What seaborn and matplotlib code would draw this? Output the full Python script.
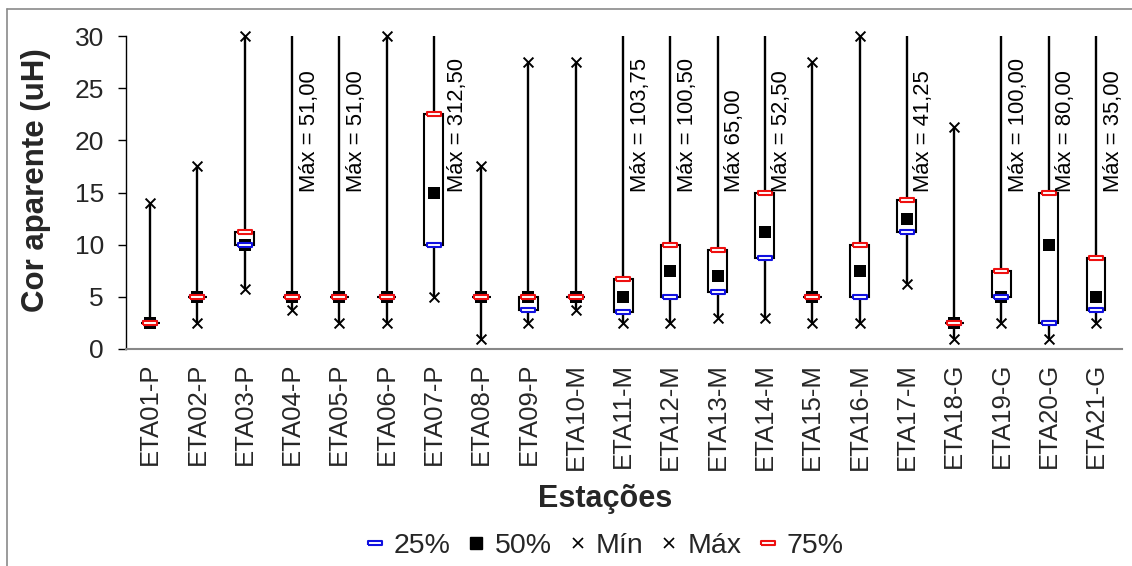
import numpy as np
import pandas as pd
import matplotlib
matplotlib.use("Agg")
import matplotlib.pyplot as plt
from matplotlib.lines import Line2D
import seaborn as sns

stations = ["ETA01-P", "ETA02-P", "ETA03-P", "ETA04-P", "ETA05-P", "ETA06-P", "ETA07-P",
            "ETA08-P", "ETA09-P", "ETA10-M", "ETA11-M", "ETA12-M", "ETA13-M", "ETA14-M",
            "ETA15-M", "ETA16-M", "ETA17-M", "ETA18-G", "ETA19-G", "ETA20-G", "ETA21-G"]
v_min = [2.5, 2.5, 5.75, 3.75, 2.5, 2.5, 5.0, 1.0, 2.5, 3.75, 2.5, 2.5, 3.0, 3.0,
         2.5, 2.5, 6.25, 1.0, 2.5, 1.0, 2.5]
q25 = [2.5, 5.0, 10.0, 5.0, 5.0, 5.0, 10.0, 5.0, 3.75, 5.0, 3.5, 5.0, 5.5, 8.75,
       5.0, 5.0, 11.25, 2.5, 5.0, 2.5, 3.75]
q50 = [2.5, 5.0, 10.0, 5.0, 5.0, 5.0, 15.0, 5.0, 5.0, 5.0, 5.0, 7.5, 7.0, 11.25,
       5.0, 7.5, 12.5, 2.5, 5.0, 10.0, 5.0]
q75 = [2.5, 5.0, 11.25, 5.0, 5.0, 5.0, 22.5, 5.0, 5.0, 5.0, 6.75, 10.0, 9.5, 15.0,
       5.0, 10.0, 14.25, 2.5, 7.5, 15.0, 8.75]
v_max = [14.0, 17.5, 30.0, 51.0, 51.0, 30.0, 312.5, 17.5, 27.5, 27.5, 103.75, 100.5, 65.0, 52.5,
         27.5, 30.0, 41.25, 21.25, 100.0, 80.0, 35.0]
max_labels = ["", "", "", "Máx = 51,00", "Máx = 51,00", "", "Máx = 312,50", "", "", "",
              "Máx = 103,75", "Máx = 100,50", "Máx 65,00", "Máx = 52,50", "", "", "Máx = 41,25",
              "", "Máx = 100,00", "Máx = 80,00", "Máx = 35,00"]
y_ticks = [0, 5, 10, 15, 20, 25, 30]

sns.set_theme(style="white")
plt.rcParams["font.family"] = ["Liberation Sans", "DejaVu Sans"]

df = pd.DataFrame({"station": stations, "min": v_min, "q25": q25, "q50": q50,
                   "q75": q75, "max": v_max, "label": max_labels})
df["pos"] = np.arange(len(df))

fig = plt.figure(figsize=(11.32, 5.66), dpi=100)
ax = fig.add_axes([126 / 1132, 1 - 349 / 566, 996 / 1132, 313 / 566])

# whiskers
ax.vlines(df["pos"], df["min"], df["max"], color="black", lw=1.7, zorder=1)
# boxes
ax.bar(df["pos"], df["q75"] - df["q25"], bottom=df["q25"], width=0.4,
       color="white", edgecolor="black", linewidth=1.5, zorder=2)

qmark = [(-1, -0.3), (1, -0.3), (1, 0.3), (-1, 0.3), (-1, -0.3)]
sns.scatterplot(data=df, x="pos", y="min", marker="x", s=50, color="black",
                linewidth=1.4, ax=ax, zorder=2.5, legend=False, clip_on=False)
dmax = df[df["max"] <= 30]
sns.scatterplot(data=dmax, x="pos", y="max", marker="x", s=50, color="black",
                linewidth=1.4, ax=ax, zorder=2.5, legend=False, clip_on=False)
sns.scatterplot(data=df, x="pos", y="q50", marker="s", s=82, color="black",
                edgecolor="black", linewidth=0, ax=ax, zorder=3, legend=False)
sns.scatterplot(data=df, x="pos", y="q25", marker=qmark, s=88, color="white",
                edgecolor="#1010e0", linewidth=1.5, ax=ax, zorder=4, legend=False)
sns.scatterplot(data=df, x="pos", y="q75", marker=qmark, s=88, color="white",
                edgecolor="#ee1010", linewidth=1.5, ax=ax, zorder=4, legend=False)

for _, r in df[df["label"] != ""].iterrows():
    off = 0.5 if r["pos"] == 6 else 0.36
    ax.text(r["pos"] + off, 15, r["label"], rotation=90, ha="center", va="bottom",
            fontsize=15.8, color="black", zorder=6)

ax.set_xlim(-0.51, 20.55)
ax.set_ylim(0, 30)
ax.set_yticks(y_ticks)
ax.set_xticks(df["pos"])
ax.set_xticklabels(stations, rotation=90, fontsize=18.5)
ax.tick_params(axis="y", labelsize=19, left=True, length=6, width=1, color="black", pad=10)
ax.tick_params(axis="x", bottom=False, length=0, pad=10)
for s in ["top", "right"]:
    ax.spines[s].set_visible(False)
ax.spines["left"].set_color("black")
ax.spines["left"].set_linewidth(1)
ax.spines["bottom"].set_color("#888888")
ax.spines["bottom"].set_linewidth(1.5)

ax.set_ylabel("Cor aparente (uH)", fontsize=22.5, fontweight="bold")
ax.yaxis.set_label_coords((51 - 126) / 996, (349 - 180) / 313)
ax.set_xlabel("Estações", fontsize=22, fontweight="bold")
ax.xaxis.set_label_coords((605 - 126) / 996, (349 - 484) / 313)

legend_handles = [
    Line2D([], [], ls="none", marker=qmark, markersize=10, markerfacecolor="white",
           markeredgecolor="#1010e0", markeredgewidth=1.5),
    Line2D([], [], ls="none", marker="s", markersize=8, color="black"),
    Line2D([], [], ls="none", marker="x", markersize=7, color="black", markeredgewidth=1.2),
    Line2D([], [], ls="none", marker="x", markersize=7, color="black", markeredgewidth=1.2),
    Line2D([], [], ls="none", marker=qmark, markersize=10, markerfacecolor="white",
           markeredgecolor="#ee1010", markeredgewidth=1.5),
]
fig.legend(legend_handles, ["25%", "50%", "Mín", "Máx", "75%"], ncol=5, frameon=False,
           loc="center", bbox_to_anchor=(605 / 1132, 1 - 546 / 566), fontsize=20.5,
           handlelength=0.6, handletextpad=0.35, columnspacing=0.6, borderaxespad=0)

# figure frame (top and left visible)
fig.add_artist(Line2D([7 / 1132, 7 / 1132], [0, 1 - 9 / 566], color="#8a8a8a", lw=1.2,
                      transform=fig.transFigure))
fig.add_artist(Line2D([7 / 1132, 1], [1 - 9 / 566, 1 - 9 / 566], color="#8a8a8a", lw=1.2,
                      transform=fig.transFigure))

fig.savefig("out.png", dpi=100)
